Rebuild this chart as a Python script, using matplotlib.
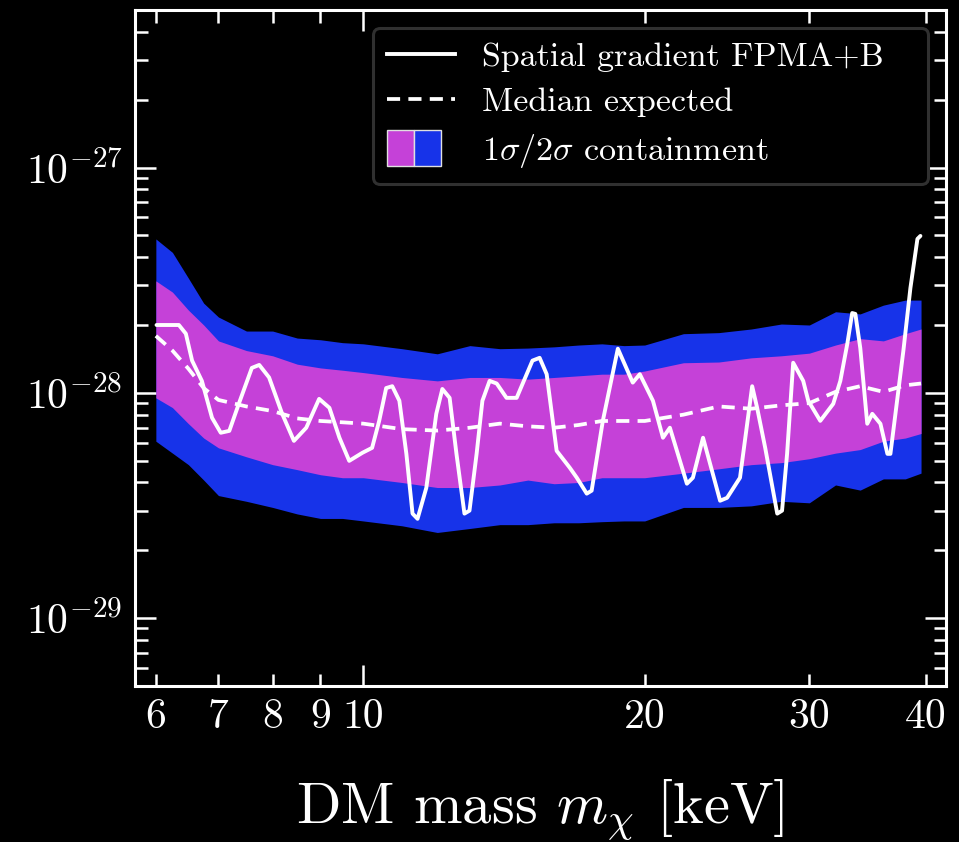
import numpy as np
import matplotlib
matplotlib.use('Agg')
import matplotlib.pyplot as plt
from matplotlib.patches import Rectangle
from matplotlib.ticker import NullFormatter, LogLocator

# ========== Data (values in units of 1e-28) ==========
band_mass = [6.0, 6.25, 6.5, 6.75, 7.0, 7.5, 8.0, 8.5, 9.0, 9.5, 10.0, 11.0, 12.0, 13.0,
             14.0, 15.0, 16.0, 17.0, 18.0, 19.0, 20.0, 22.0, 24.0, 26.0, 28.0, 30.0,
             32.0, 34.0, 36.0, 38.0, 39.5]
up2 = [4.82, 4.2, 3.23, 2.5, 2.17, 1.88, 1.88, 1.75, 1.72, 1.67, 1.65, 1.57, 1.49, 1.62,
       1.57, 1.58, 1.60, 1.63, 1.65, 1.62, 1.63, 1.83, 1.85, 1.92, 2.02, 2.0,
       2.29, 2.24, 2.45, 2.58, 2.58]
up1 = [3.14, 2.80, 2.33, 2.0, 1.70, 1.54, 1.46, 1.34, 1.29, 1.26, 1.23, 1.17, 1.13, 1.17,
       1.17, 1.15, 1.17, 1.19, 1.21, 1.21, 1.25, 1.36, 1.37, 1.43, 1.46, 1.50,
       1.63, 1.74, 1.70, 1.83, 1.92]
lo1 = [0.95, 0.86, 0.73, 0.63, 0.57, 0.52, 0.48, 0.456, 0.433, 0.42, 0.42, 0.40, 0.38, 0.38,
       0.39, 0.41, 0.395, 0.40, 0.42, 0.42, 0.42, 0.44, 0.46, 0.48, 0.49, 0.51,
       0.54, 0.56, 0.61, 0.63, 0.66]
lo2 = [0.61, 0.54, 0.48, 0.41, 0.35, 0.33, 0.31, 0.29, 0.277, 0.277, 0.27, 0.257, 0.24, 0.25,
       0.26, 0.26, 0.265, 0.265, 0.268, 0.27, 0.27, 0.31, 0.31, 0.315, 0.33, 0.325,
       0.39, 0.37, 0.415, 0.415, 0.44]
median = [1.79, 1.54, 1.28, 1.05, 0.93, 0.87, 0.83, 0.77, 0.75, 0.74, 0.73, 0.69, 0.68, 0.70,
          0.73, 0.71, 0.70, 0.72, 0.75, 0.75, 0.75, 0.80, 0.87, 0.85, 0.88, 0.90,
          1.01, 1.07, 1.01, 1.08, 1.10]

obs_mass = [6.01, 6.35, 6.46, 6.56, 6.72, 6.89, 7.04, 7.19, 7.36, 7.60, 7.74, 7.93, 8.19,
            8.43, 8.69, 8.97, 9.20, 9.43, 9.66, 9.98, 10.22, 10.40, 10.58, 10.74, 10.93,
            11.12, 11.29, 11.43, 11.68, 11.97, 12.15, 12.37, 12.58, 12.83, 12.99, 13.22,
            13.41, 13.65, 13.89, 14.23, 14.59, 14.81, 15.17, 15.44, 15.71, 16.10, 16.63,
            16.92, 17.34, 17.55, 18.04, 18.72, 19.42, 19.76, 20.41, 20.92, 21.28, 22.19,
            22.52, 23.09, 24.08, 24.50, 25.29, 26.06, 26.38, 26.91, 27.72, 28.05, 28.40,
            28.83, 29.55, 29.92, 30.82, 31.82, 32.38, 32.94, 33.34, 33.60, 34.01, 34.60,
            35.03, 35.74, 36.36, 36.63, 37.27, 37.82, 38.48, 39.15, 39.44]
obs = [2.00, 2.00, 1.83, 1.39, 1.13, 0.775, 0.665, 0.678, 0.894, 1.29, 1.33, 1.17, 0.807,
       0.612, 0.700, 0.94, 0.858, 0.632, 0.499, 0.542, 0.570, 0.751, 1.05, 1.07, 0.922,
       0.536, 0.291, 0.276, 0.379, 0.807, 1.04, 0.95, 0.536, 0.291, 0.300, 0.536,
       0.922, 1.13, 1.10, 0.95, 0.95, 1.10, 1.39, 1.43, 1.21, 0.553, 0.465,
       0.42, 0.357, 0.368, 0.751, 1.57, 1.11, 1.21, 0.922, 0.632, 0.700, 0.395,
       0.42, 0.632, 0.332, 0.342, 0.42, 1.07, 0.858, 0.57, 0.291, 0.30, 0.536,
       1.36, 1.13, 0.922, 0.751, 0.894, 1.13, 1.65, 2.26, 2.24, 1.58, 0.729,
       0.807, 0.729, 0.536, 0.536, 0.95, 1.54, 2.92, 4.82, 4.97]

xticks_minor = [6, 7, 8, 9, 20, 30, 40]
yticks = [1e-29, 1e-28, 1e-27]
ytick_labels = [r'$10^{-29}$', r'$10^{-28}$', r'$10^{-27}$']

col_1s = '#c541d8'
col_2s = '#1733e9'

# ========== Style ==========
plt.rcParams['font.family'] = 'serif'
plt.rcParams['font.serif'] = ['cmr10']
plt.rcParams['mathtext.fontset'] = 'cm'
plt.rcParams['axes.formatter.use_mathtext'] = True


class TwoPatchHandler:
    def legend_artist(self, legend, orig_handle, fontsize, handlebox):
        x0, y0 = -handlebox.xdescent, -handlebox.ydescent
        w, h = handlebox.width, handlebox.height
        pw = 0.4 * w
        ph = 1.5 * h
        yb = y0 + h / 2 - ph / 2
        r1 = Rectangle((x0, yb), pw, ph, facecolor=col_1s, edgecolor='#e0e0e0', lw=1.0,
                       transform=handlebox.get_transform())
        r2 = Rectangle((x0 + pw, yb), pw, ph, facecolor=col_2s, edgecolor='#e0e0e0', lw=1.0,
                       transform=handlebox.get_transform())
        handlebox.add_artist(r1)
        handlebox.add_artist(r2)
        return r1


fig = plt.figure(figsize=(9.59, 8.42), dpi=100, facecolor='black')
ax = fig.add_axes([0.1408, 0.1853, 0.8456, 0.8028])
ax.set_facecolor('black')

scale = 1e-28
bm = np.array(band_mass)
ax.fill_between(bm, np.array(lo2) * scale, np.array(up2) * scale, color=col_2s, lw=0, zorder=1)
ax.fill_between(bm, np.array(lo1) * scale, np.array(up1) * scale, color=col_1s, lw=0, zorder=2)
ax.plot(bm, np.array(median) * scale, color='white', ls=(0, (3.5, 2.2)), lw=2.7, zorder=3)
ax.plot(obs_mass, np.array(obs) * scale, color='white', lw=2.8, zorder=4,
        solid_joinstyle='round', solid_capstyle='round')

ax.set_xscale('log')
ax.set_yscale('log')
ax.set_xlim(5.7, 42)
ax.set_ylim(5e-30, 5e-27)

ax.set_xticks([10], ['10'])
ax.set_xticks(xticks_minor, [str(t) for t in xticks_minor], minor=True)
ax.set_yticks(yticks, ytick_labels)
ax.yaxis.set_minor_locator(LogLocator(base=10, subs=np.arange(2, 10)))
ax.yaxis.set_minor_formatter(NullFormatter())

ax.tick_params(which='both', direction='in', top=True, right=True, colors='white',
               labelcolor='white', labelsize=30, width=1.8)
ax.tick_params(which='major', length=15, pad=9)
ax.tick_params(which='minor', length=9, pad=9)
for s in ax.spines.values():
    s.set_color('white')
    s.set_linewidth(2.2)

ax.set_xlabel(r'DM mass $m_\chi$ [keV]', color='white', fontsize=42, labelpad=30)

h_line = plt.Line2D([], [], color='white', lw=2.8)
h_dash = plt.Line2D([], [], color='white', lw=2.7, ls=(0, (3.5, 2.2)))
h_band = Rectangle((0, 0), 1, 1)
leg = ax.legend([h_line, h_dash, h_band],
                ['Spatial gradient FPMA+B', 'Median expected', r'$1\sigma/2\sigma$ containment'],
                handler_map={Rectangle: TwoPatchHandler()},
                loc='upper left', bbox_to_anchor=(0.2935, 0.746, 0.6845, 0.227),
                mode='expand', borderaxespad=0.0,
                fontsize=24.5, frameon=True, fancybox=True,
                facecolor='black', edgecolor='#303030', framealpha=1.0,
                handlelength=2.0, labelcolor='white', labelspacing=0.45)
leg.get_frame().set_linewidth(2.2)

fig.savefig('out.png', dpi=100, facecolor='black')
